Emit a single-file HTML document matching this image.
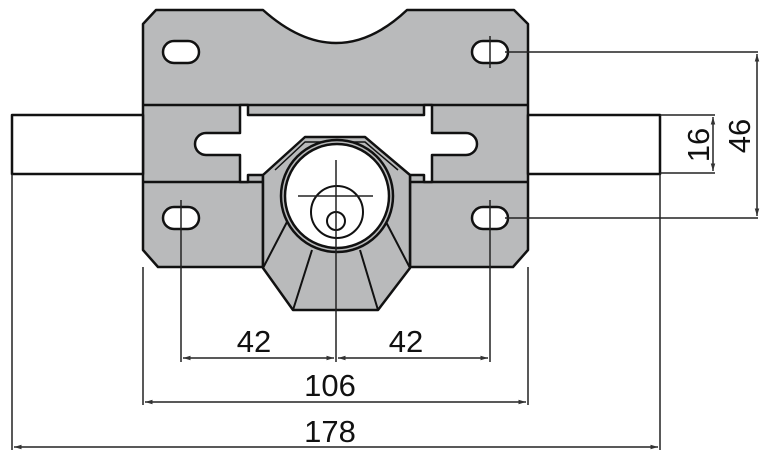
<!DOCTYPE html>
<html><head><style>html,body{margin:0;padding:0;background:#fff}svg{display:block}</style></head><body>
<svg width="768" height="465" viewBox="0 0 768 465" xmlns="http://www.w3.org/2000/svg">
<defs><marker id="a" viewBox="0 0 10 10" refX="10" refY="5" markerWidth="7" markerHeight="5" orient="auto-start-reverse"><path d="M0,2 L10,5 L0,8 z" fill="#333"/></marker></defs>
<g stroke="#111" stroke-width="2.5" fill="#b9babb" stroke-linejoin="round">
<!-- plate -->
<path d="M143,24 L156,10 L263,10 Q300,43 336,43 Q372,43 407,10 L514,10 L528,24 L528,250 L513,267 L410,267 L410,175 L365,137 L305,137 L263,175 L263,267 L158,267 L143,250 Z"/>
<!-- rods -->
<rect x="12" y="115" width="131" height="59" fill="#fff"/>
<rect x="528" y="115" width="132" height="59" fill="#fff"/>
<!-- bolt band -->
<path d="M143,105 L528,105 M143,182 L263,182 M410,182 L528,182" fill="none"/>
<path d="M240,105 L248,105 L248,115 L424,115 L424,105 L432,105 L432,133 L466,133 A11,11 0 0 1 466,155 L432,155 L432,182 L424,182 L424,175 L248,175 L248,182 L240,182 L240,155 L206,155 A11,11 0 0 1 206,133 L240,133 Z" fill="#fff"/>
<!-- hex body -->
<path d="M305,137 L365,137 L410,175 L410,268 L378,310 L293,310 L263,268 L263,175 Z"/>
<path d="M275,170 L305,142 L365,142 L398,170" fill="none" stroke-width="1.5"/>
<path d="M288,220 L263,268 M385,220 L410,268 M312,250 L293,310 M360,250 L378,310" fill="none" stroke-width="2"/>
<circle cx="337" cy="196" r="56" fill="#b9babb"/>
<circle cx="337" cy="196" r="52" fill="#fff"/>
<circle cx="337" cy="212" r="26" fill="none" stroke-width="2"/>
<circle cx="336" cy="221" r="9" fill="none" stroke-width="2"/>
<!-- holes -->
<rect x="163" y="41" width="36" height="22" rx="11" fill="#fff"/>
<rect x="472" y="41" width="36" height="22" rx="11" fill="#fff"/>
<rect x="163" y="207" width="36" height="22" rx="11" fill="#fff"/>
<rect x="472" y="207" width="36" height="22" rx="11" fill="#fff"/>
</g>
<g stroke="#222" stroke-width="1.5" fill="none">
<path d="M298,196 L373,196 M336,160 L336,362"/>
<path d="M181,200 L181,362 M490,200 L490,362 M490,36 L490,68"/>
<path d="M143,267 L143,405 M528,267 L528,405 M12,174 L12,450 M660,174 L660,450"/>
<path d="M505,52 L758,52 M505,218 L758,218 M660,115 L715,115 M660,173 L715,173"/>
<path d="M183,358 L334,358" marker-start="url(#a)" marker-end="url(#a)"/>
<path d="M338,358 L488,358" marker-start="url(#a)" marker-end="url(#a)"/>
<path d="M145,402 L526,402" marker-start="url(#a)" marker-end="url(#a)"/>
<path d="M14,447 L658,447" marker-start="url(#a)" marker-end="url(#a)"/>
<path d="M713,117 L713,171" marker-start="url(#a)" marker-end="url(#a)"/>
<path d="M757,54 L757,216" marker-start="url(#a)" marker-end="url(#a)"/>
</g>
<g font-family="Liberation Sans, sans-serif" font-size="31" fill="#111" text-anchor="middle">
<text x="254" y="352">42</text>
<text x="406" y="352">42</text>
<text x="330" y="396">106</text>
<text x="330" y="442">178</text>
<text transform="translate(709,145) rotate(-90)">16</text>
<text transform="translate(750,136) rotate(-90)">46</text>
</g>
</svg>
</body></html>
